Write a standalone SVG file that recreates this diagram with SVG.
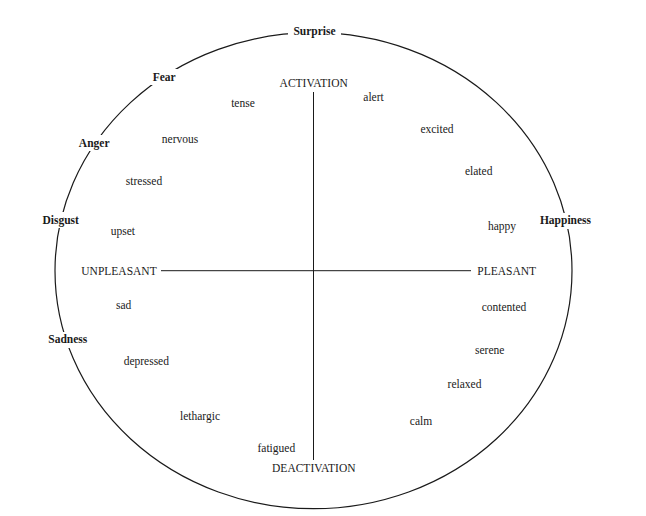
<svg xmlns="http://www.w3.org/2000/svg" width="646" height="516" viewBox="0 0 646 516">
<style>
text{font-family:"Liberation Serif","Times New Roman",serif;font-size:11.5px;fill:#1a1a1a;text-anchor:middle}
.b{font-weight:bold}
.bg{fill:#fff}
.ln{stroke:#1a1a1a;fill:none}
</style>
<rect width="646" height="516" fill="#fff"/>
<g id="connectors">
<ellipse class="ln" cx="313.5" cy="270.7" rx="258.5" ry="238" stroke-width="1.2"/>
<line class="ln" x1="313.5" y1="92" x2="313.5" y2="460" stroke-width="1"/>
<line class="ln" x1="161" y1="270.7" x2="471" y2="270.7" stroke-width="1"/>
</g>
<g id="surprise"><rect class="bg" x="288" y="24" width="53" height="15"/><text class="b" x="314.5" y="35">Surprise</text></g>
<g id="fear"><rect class="bg" x="149" y="69" width="30" height="16"/><text class="b" x="164.2" y="81">Fear</text></g>
<g id="anger"><rect class="bg" x="75" y="135" width="38" height="16"/><text class="b" x="94.2" y="146.7">Anger</text></g>
<g id="disgust"><rect class="bg" x="38" y="212" width="45" height="16"/><text class="b" x="60.7" y="223.7">Disgust</text></g>
<g id="happiness"><rect class="bg" x="536" y="213" width="59" height="16"/><text class="b" x="565.5" y="224.3">Happiness</text></g>
<g id="sadness"><rect class="bg" x="44" y="332" width="48" height="16"/><text class="b" x="67.8" y="343.3">Sadness</text></g>
<g id="activation"><text x="313.7" y="86.7">ACTIVATION</text></g>
<g id="deactivation"><text x="313.8" y="472.3">DEACTIVATION</text></g>
<g id="unpleasant"><text x="119" y="274.7">UNPLEASANT</text></g>
<g id="pleasant"><text x="506.7" y="274.7">PLEASANT</text></g>
<g id="tense"><text x="243" y="106.7">tense</text></g>
<g id="alert"><text x="373.5" y="101">alert</text></g>
<g id="nervous"><text x="180" y="142.7">nervous</text></g>
<g id="excited"><text x="437" y="133.3">excited</text></g>
<g id="stressed"><text x="144" y="185">stressed</text></g>
<g id="elated"><text x="478.7" y="174.7">elated</text></g>
<g id="upset"><text x="122.8" y="235">upset</text></g>
<g id="happy"><text x="502" y="230">happy</text></g>
<g id="sad"><text x="123.7" y="308.7">sad</text></g>
<g id="contented"><text x="504" y="310.7">contented</text></g>
<g id="serene"><text x="489.7" y="353.7">serene</text></g>
<g id="depressed"><text x="146.3" y="365.3">depressed</text></g>
<g id="relaxed"><text x="464.5" y="387.7">relaxed</text></g>
<g id="lethargic"><text x="200" y="420.3">lethargic</text></g>
<g id="calm"><text x="421" y="424.7">calm</text></g>
<g id="fatigued"><text x="276.3" y="452.3">fatigued</text></g>
</svg>
